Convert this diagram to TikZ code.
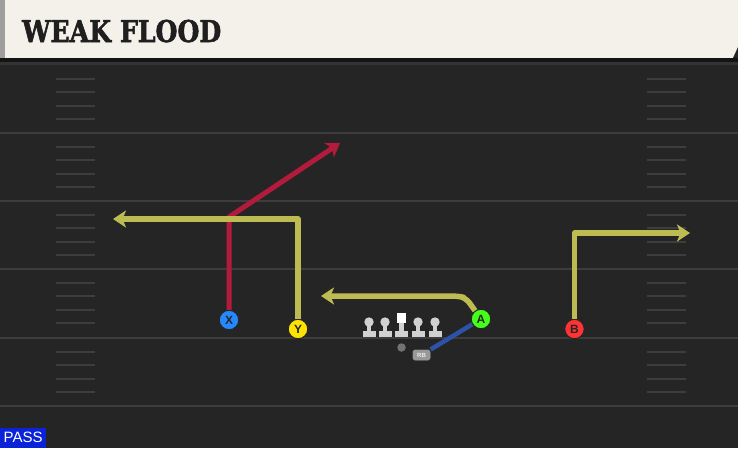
\documentclass[tikz,border=0pt]{standalone}
\usepackage{fontspec}
\setmainfont{DejaVu Serif}
\setsansfont{Liberation Sans}
\newfontfamily\titlefont[FakeStretch=0.84, FakeBold=1.8]{DejaVu Serif Bold}
\usetikzlibrary{positioning, arrows.meta, shapes}
\definecolor{turf}{HTML}{252525}
\definecolor{paper}{HTML}{F4F1EA}
\definecolor{yard}{HTML}{3D3D3D}
\definecolor{routeyellow}{HTML}{BDBC52}
\definecolor{routered}{HTML}{B31B3C}
\definecolor{routeblue}{HTML}{2E52A8}
\definecolor{passblue}{HTML}{0A22D8}

\begin{document}
\begin{tikzpicture}[x=1pt, y=-1pt,
    player/.style={draw=black!85, line width=1pt, circle, minimum size=19.5pt, inner sep=0pt, text=black!85, font=\sffamily\bfseries\fontsize{12}{12}\selectfont}, % receivers
    route/.style={line width=5.5pt, line join=round, -{Stealth[inset=3.5pt, length=13pt, width=17pt]}},
    hash/.style={yard, line width=2pt},
    lineman/.pic={
        \fill[black!18] (-6.5,9) rectangle (6.5,14.5);
        \fill[black!18] (-2.2,0) rectangle (2.2,10);
        \fill[black!18] (0,0) circle (4.7);
    },
    center/.pic={
        \fill[black!18] (-6.5,9) rectangle (6.5,14.5);
        \fill[black!18] (-2.2,0) rectangle (2.2,10);
        \fill[white] (-4.8,-8.8) rectangle (4.8,0.8);
    }
    ]
\useasboundingbox (0,0) rectangle (738,448);
% field
\fill[turf] (0,0) rectangle (738,448);
\fill[paper] (0,0) rectangle (738,58);
\fill[black!38] (0,0) rectangle (5,58);
\fill[turf] (738,47) -- (738,58) -- (733,58) -- cycle;
\fill[black!92] (0,58) rectangle (738,62);
\fill[black!80] (0,62) rectangle (738,65);
\node[anchor=base west, inner sep=0pt, text=black!88, font=\titlefont\fontsize{30}{30}\selectfont] (title) at (22,42) {WEAK FLOOD};

\foreach \ly in {133,201,269,338,406}
    \draw[yard, line width=2pt] (0,\ly) -- (738,\ly);
\foreach \ly in {65,133,201,269,338}{
    \foreach \k in {1,2,3,4}{
        \draw[hash] (56,\ly+13.6*\k) -- (95,\ly+13.6*\k);
        \draw[hash] (647,\ly+13.6*\k) -- (686,\ly+13.6*\k);
    }
}

% players
\node[player, fill=blue!55!cyan!85!white] (X) at (229,320) {X};
\node[player, fill=yellow!85!orange] (Y) at (298,329) {Y};
\node[player, fill=green!75!lime!90!white] (A) at (481,319) {A};
\node[player, fill=red!80!white] (B) at (574.5,329) {B};
\node[draw=black!80, fill=black!40, rounded corners=2.5pt, minimum width=18pt, minimum height=11pt, inner sep=0pt, text=black!8, font=\sffamily\bfseries\fontsize{6}{6}\selectfont] (RB) at (421.5,355) {RB};
\node[circle, fill=black!55, minimum size=8.5pt, inner sep=0pt] (QB) at (401.5,347.5) {};

\foreach \lx in {369,385,418,435}
    \pic at (\lx,322) {lineman};
\pic at (401.5,322) {center};

\coordinate (xcut) at (229,217);
\coordinate (xend) at (340,143);
\coordinate (ycut) at (298,219);
\coordinate (yend) at (113,219);
\coordinate (acut) at (466,298);
\coordinate (aturn) at (458,296);
\coordinate (aend) at (321,296);
\coordinate (bcut) at (574.5,233);
\coordinate (bend) at (690,233);

% routes
\draw[route, routered, line width=5pt] (X) -- (xcut) -- (xend);
\draw[route, routeyellow] (Y) -- (ycut) -- (yend);
\draw[route, routeyellow, rounded corners=6pt] (A) -- (acut) -- (aturn) -- (aend);
\draw[route, routeyellow] (B) -- (bcut) -- (bend);
\draw[routeblue, line width=4.5pt] (RB) -- (A);

\node[anchor=south west, fill=passblue, text=white, minimum width=46pt, minimum height=20pt, inner sep=0pt, font=\sffamily\fontsize{15}{15}\selectfont] (pass) at (0,448) {PASS};
\end{tikzpicture}
\end{document}
